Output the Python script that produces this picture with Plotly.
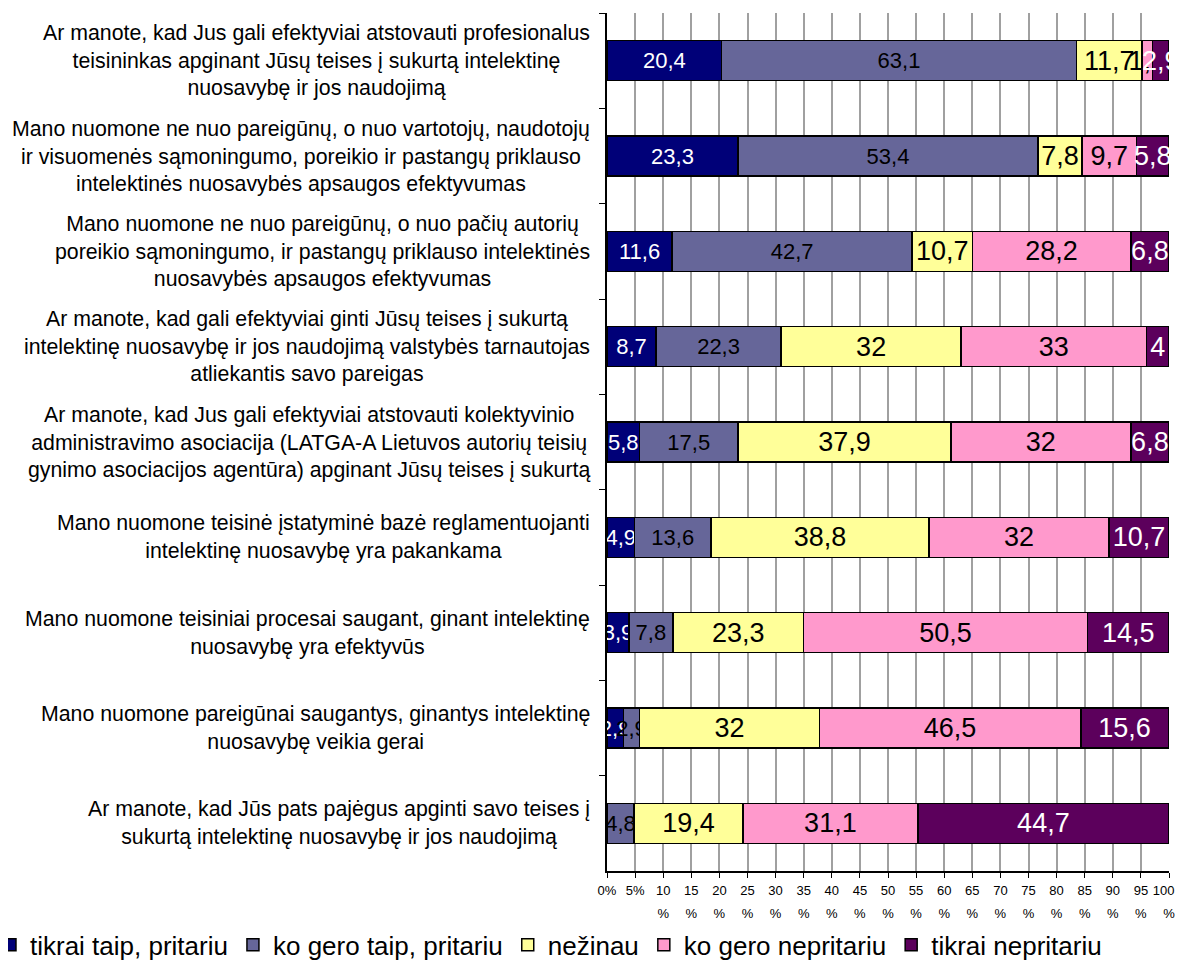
import plotly.graph_objects as go

categories = [
    ["Ar manote, kad Jus gali efektyviai atstovauti profesionalus",
     "teisininkas apginant Jūsų teises į sukurtą intelektinę",
     "nuosavybę ir jos naudojimą"],
    ["Mano nuomone ne nuo pareigūnų, o nuo vartotojų, naudotojų",
     "ir visuomenės sąmoningumo, poreikio ir pastangų priklauso",
     "intelektinės nuosavybės apsaugos efektyvumas"],
    ["Mano nuomone ne nuo pareigūnų, o nuo pačių autorių",
     "poreikio sąmoningumo, ir pastangų priklauso intelektinės",
     "nuosavybės apsaugos efektyvumas"],
    ["Ar manote, kad gali efektyviai ginti Jūsų teises į sukurtą",
     "intelektinę nuosavybę ir jos naudojimą valstybės tarnautojas",
     "atliekantis savo pareigas"],
    ["Ar manote, kad Jus gali efektyviai atstovauti kolektyvinio",
     "administravimo asociacija (LATGA-A Lietuvos autorių teisių",
     "gynimo asociacijos agentūra) apginant Jūsų teises į sukurtą"],
    ["Mano nuomone teisinė įstatyminė bazė reglamentuojanti",
     "intelektinę nuosavybę yra pakankama"],
    ["Mano nuomone teisiniai procesai saugant, ginant intelektinę",
     "nuosavybę yra efektyvūs"],
    ["Mano nuomone pareigūnai saugantys, ginantys intelektinę",
     "nuosavybę veikia gerai"],
    ["Ar manote, kad Jūs pats pajėgus apginti savo teises į",
     "sukurtą intelektinę nuosavybę ir jos naudojimą"],
]

series_names = ["tikrai taip, pritariu", "ko gero taip, pritariu", "nežinau",
                "ko gero nepritariu", "tikrai nepritariu"]

tikrai_taip = [20.4, 23.3, 11.6, 8.7, 5.8, 4.9, 3.9, 2.9, 0]
ko_gero_taip = [63.1, 53.4, 42.7, 22.3, 17.5, 13.6, 7.8, 2.9, 4.8]
nezinau = [11.7, 7.8, 10.7, 32, 37.9, 38.8, 23.3, 32, 19.4]
ko_gero_ne = [1.9, 9.7, 28.2, 33, 32, 32, 50.5, 46.5, 31.1]
tikrai_ne = [2.9, 5.8, 6.8, 4, 6.8, 10.7, 14.5, 15.6, 44.7]

tick_vals = list(range(0, 101, 5))
tick_labels = (["0%", "5%"] + [f"{v}<br>%" for v in range(10, 100, 5)]
               + ["100&nbsp;&nbsp;&nbsp;<br>%"])

colors = ["#000078", "#666699", "#ffff99", "#ff99cc", "#5c005c"]
text_colors = ["white", "black", "black", "black", "white"]
text_sizes = [22, 22, 27, 27, 27]

cat_ids = [f"c{i}" for i in range(len(categories))]


def fmt(v):
    if v == 0:
        return ""
    return f"{v:g}".replace(".", ",")


def small(t):
    return "<br>".join(f"<span style='font-size:13px'>{p}</span>" for p in t.split("<br>"))


fig = go.Figure()
for name, vals, col, tc, ts in zip(series_names,
                                   [tikrai_taip, ko_gero_taip, nezinau, ko_gero_ne, tikrai_ne],
                                   colors, text_colors, text_sizes):
    fig.add_trace(go.Bar(
        name=name, y=cat_ids, x=vals, orientation="h",
        marker=dict(color=col, line=dict(color="black", width=1.5)),
        text=[fmt(v) for v in vals],
        textposition="inside", insidetextanchor="middle", textangle=0,
        constraintext="none",
        insidetextfont=dict(color=tc, size=ts, family="Liberation Sans, Arial"),
        hoverinfo="x+name",
    ))

annotations = []
for cid, lines in zip(cat_ids, categories):
    annotations.append(dict(
        x=0, xref="paper", y=cid, yref="y", xanchor="right", yanchor="middle",
        xshift=-15, text="<br>".join(lines), showarrow=False, align="center",
        font=dict(size=21.3, color="black", family="Liberation Sans, Arial"),
    ))

fig.update_layout(
    width=1175, height=955,
    margin=dict(l=599, r=14, t=5, b=92, autoexpand=False),
    barmode="stack", bargap=0.58,
    plot_bgcolor="white", paper_bgcolor="white",
    font=dict(family="Liberation Sans, Arial", color="black"),
    annotations=annotations,
    showlegend=True,
    legend=dict(orientation="h", xref="paper", yref="paper",
                x=-1.0979, xanchor="left", y=-0.0862, yanchor="middle",
                traceorder="normal", font=dict(size=26, color="black"),
                itemwidth=30, tracegroupgap=0, bgcolor="rgba(0,0,0,0)"),
    xaxis=dict(range=[0, 100], tickvals=tick_vals,
               ticktext=[small(t) for t in tick_labels],
               showgrid=True, gridcolor="#a0a0a0", gridwidth=2,
               showline=True, linecolor="black", linewidth=2,
               ticks="outside", ticklen=5, tickcolor="black",
               ticklabelstandoff=-5, ticklabeloverflow="allow",
               tickfont=dict(size=18, color="black"), zeroline=False,
               fixedrange=True),
    yaxis=dict(autorange="reversed", showticklabels=False,
               showline=True, linecolor="black", linewidth=2,
               ticks="outside", ticklen=6, tickcolor="black",
               tickson="boundaries", showgrid=False, fixedrange=True),
)

fig.write_html("out.html")
